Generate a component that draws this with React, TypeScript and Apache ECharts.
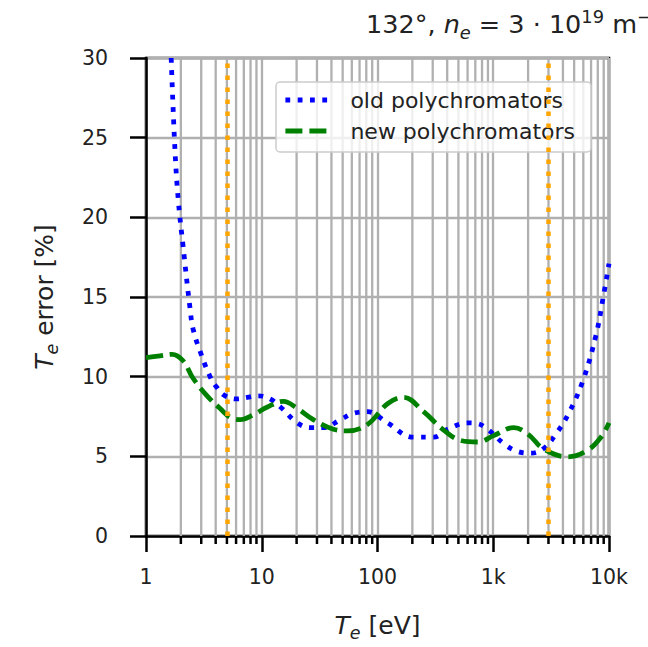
import React, { useEffect, useRef } from "react";
import * as echarts from "echarts";

// ---- data ----
const oldT = [1.65, 1.78, 1.9, 2.09, 2.4, 2.55, 2.93, 3.58, 4.12, 4.83, 6.14, 7.49, 9.33, 11.8, 14.5, 20.3, 26.3, 34.1, 47.8, 62.0, 81.9, 122, 205, 305, 404, 601, 734, 896, 1233, 1630, 2112, 2736, 3476, 4416, 5955, 7718, 8873, 10000];
const oldErr = [30.0, 24.2, 21.1, 18.2, 14.3, 13.0, 11.6, 10.0, 9.3, 8.8, 8.6, 8.7, 8.8, 8.6, 8.1, 7.1, 6.8, 6.8, 7.3, 7.7, 7.8, 7.1, 6.2, 6.2, 6.7, 7.1, 7.05, 6.7, 5.8, 5.3, 5.2, 5.5, 6.4, 7.6, 9.75, 12.6, 14.9, 17.1];

const newT = [1, 1.32, 1.68, 2.09, 2.55, 3.37, 4.37, 5.34, 6.51, 8.44, 11.2, 15.4, 20.3, 27.9, 41.6, 55.0, 81.9, 122, 168, 250, 373, 523, 734, 1010, 1505, 1990, 2736, 4416, 6580, 8525, 10000];
const newErr = [11.2, 11.3, 11.4, 11.0, 9.9, 8.8, 8.0, 7.45, 7.3, 7.6, 8.1, 8.45, 8.0, 7.3, 6.7, 6.6, 7.0, 8.3, 8.7, 7.8, 6.65, 6.0, 5.9, 6.3, 6.8, 6.4, 5.45, 4.97, 5.4, 6.2, 7.1];

const markerT = [5, 3000];

const xTickValues = [1, 10, 100, 1000, 10000];
const xTickLabels = ["1", "10", "100", "1k", "10k"];
const minorMultipliers = [2, 3, 4, 5, 6, 7, 8, 9];
const yTicks = [0, 5, 10, 15, 20, 25, 30];

const seriesNames = ["old polychromators", "new polychromators"];

const FONT = "DejaVu Sans";
const GRID_COLOR = "#b0b0b0";
const TEXT = "#222";

const mathRich = (fs: number, lh: number) => ({
  t: { fontFamily: FONT, fontSize: fs, color: TEXT, lineHeight: lh },
  i: { fontFamily: FONT, fontSize: fs, fontStyle: "italic", color: TEXT, lineHeight: lh },
  sub: { fontFamily: FONT, fontSize: fs * 0.7, fontStyle: "italic", color: TEXT, lineHeight: 18, verticalAlign: "bottom" },
  sup: { fontFamily: FONT, fontSize: fs * 0.7, color: TEXT, lineHeight: 18, verticalAlign: "top" },
});

export default function App() {
  const ref = useRef<HTMLDivElement>(null);

  useEffect(() => {
    if (!ref.current) return;
    const chart = echarts.init(ref.current, undefined, { renderer: "svg" });

    const minorVals: number[][] = [];
    for (let d = 0; d < xTickValues.length - 1; d++) {
      for (const m of minorMultipliers) minorVals.push([m * xTickValues[d], 0]);
    }

    const option: any = {
      animation: false,
      backgroundColor: "#ffffff",
      title: {
        left: 366,
        top: 7,
        padding: 0,
        text: "132°, {i|n}{sub|e}{t| = 3 · 10}{sup|19}{t| m}{sup|−3}",
        textStyle: {
          fontFamily: FONT,
          fontSize: 25.5,
          fontWeight: "normal",
          color: TEXT,
          lineHeight: 34,
          rich: mathRich(25.5, 34),
        },
      },
      legend: {
        orient: "vertical",
        left: 276,
        top: 82,
        padding: [7, 16, 10, 7],
        itemWidth: 44,
        itemHeight: 14,
        itemGap: 9,
        backgroundColor: "rgba(255,255,255,0.8)",
        borderColor: "#cccccc",
        borderWidth: 1.5,
        borderRadius: 4,
        data: seriesNames,
        itemStyle: { opacity: 0, color: "transparent", borderWidth: 0 },
        lineStyle: { width: 4.8, cap: "butt" },
        textStyle: {
          fontFamily: FONT,
          fontSize: 22,
          color: TEXT,
          lineHeight: 22,
          padding: [0, 0, 0, 16],
        },
      },
      grid: {
        left: 146,
        right: 39,
        top: 58,
        bottom: 107,
        show: true,
        borderColor: "#000",
        borderWidth: 2.5,
        backgroundColor: "transparent",
      },
      xAxis: {
        type: "log",
        logBase: 10,
        min: xTickValues[0],
        max: xTickValues[xTickValues.length - 1],
        splitNumber: 4,
        name: "{i|T}{sub|e}{t| [eV]}",
        nameLocation: "middle",
        nameGap: 72,
        nameTextStyle: {
          fontFamily: FONT,
          fontSize: 25,
          color: TEXT,
          lineHeight: 34,
          rich: mathRich(25, 34),
        },
        axisLine: { show: true, onZero: false, lineStyle: { color: "#000", width: 2.5 } },
        axisTick: { show: true, length: 16, lineStyle: { color: "#000", width: 2.5 } },
        axisLabel: {
          fontFamily: FONT,
          fontSize: 20.5,
          color: TEXT,
          margin: 29,
          lineHeight: 24,
          showMinLabel: true,
          showMaxLabel: true,
          formatter: (v: number) => {
            const idx = xTickValues.findIndex((t) => Math.abs(t - v) / t < 1e-6);
            return idx >= 0 ? xTickLabels[idx] : "";
          },
        },
        splitLine: { show: true, lineStyle: { color: GRID_COLOR, width: 2.3 } },
      },
      yAxis: {
        type: "value",
        min: yTicks[0],
        max: yTicks[yTicks.length - 1],
        interval: 5,
        name: "{i|T}{sub|e}{t| error [%]}",
        nameLocation: "middle",
        nameGap: 85,
        nameRotate: 90,
        nameTextStyle: {
          fontFamily: FONT,
          fontSize: 25,
          color: TEXT,
          lineHeight: 34,
          rich: mathRich(25, 34),
        },
        axisLine: { show: true, lineStyle: { color: "#000", width: 2.5 } },
        axisTick: { show: true, length: 16, lineStyle: { color: "#000", width: 2.5 } },
        axisLabel: {
          fontFamily: FONT,
          fontSize: 20.5,
          color: TEXT,
          margin: 38,
        },
        splitLine: { show: true, lineStyle: { color: GRID_COLOR, width: 2.3 } },
      },
      series: [
        {
          type: "custom",
          name: "minor",
          silent: true,
          z: 1,
          clip: false,
          data: minorVals,
          encode: { x: 0, y: 1 },
          renderItem: (params: any, api: any) => {
            const x = api.value(0);
            const top = api.coord([x, yTicks[yTicks.length - 1]]);
            const bot = api.coord([x, yTicks[0]]);
            return {
              type: "group",
              children: [
                {
                  type: "line",
                  shape: { x1: bot[0], y1: top[1], x2: bot[0], y2: bot[1] },
                  style: { stroke: GRID_COLOR, lineWidth: 2.3 },
                },
                {
                  type: "line",
                  shape: { x1: bot[0], y1: bot[1], x2: bot[0], y2: bot[1] + 8 },
                  style: { stroke: "#000", lineWidth: 2.5 },
                },
              ],
            };
          },
        },
        {
          type: "line",
          name: "markers",
          data: [],
          silent: true,
          z: 2,
          markLine: {
            silent: true,
            symbol: "none",
            label: { show: false },
            lineStyle: { color: "#ffa500", width: 4.5, type: [4.5, 7.5], cap: "butt" },
            data: markerT.map((t) => ({ xAxis: t })),
          },
        },
        {
          type: "line",
          name: seriesNames[0],
          data: oldT.map((t, i) => [t, oldErr[i]]),
          smooth: 0.4,
          showSymbol: false,
          symbol: "none",
          z: 3,
          color: "#0000ff",
          lineStyle: { color: "#0000ff", width: 4.8, type: [4.8, 7.5], cap: "butt" },
        },
        {
          type: "line",
          name: seriesNames[1],
          data: newT.map((t, i) => [t, newErr[i]]),
          smooth: 0.4,
          showSymbol: false,
          symbol: "none",
          z: 4,
          color: "#008000",
          lineStyle: { color: "#008000", width: 4.8, type: [17, 7], cap: "butt" },
        },
      ],
    };

    chart.setOption(option);
    return () => chart.dispose();
  }, []);

  return (
    <div
      ref={ref}
      style={{ position: "fixed", left: 0, top: 0, width: 648, height: 647 }}
    />
  );
}
